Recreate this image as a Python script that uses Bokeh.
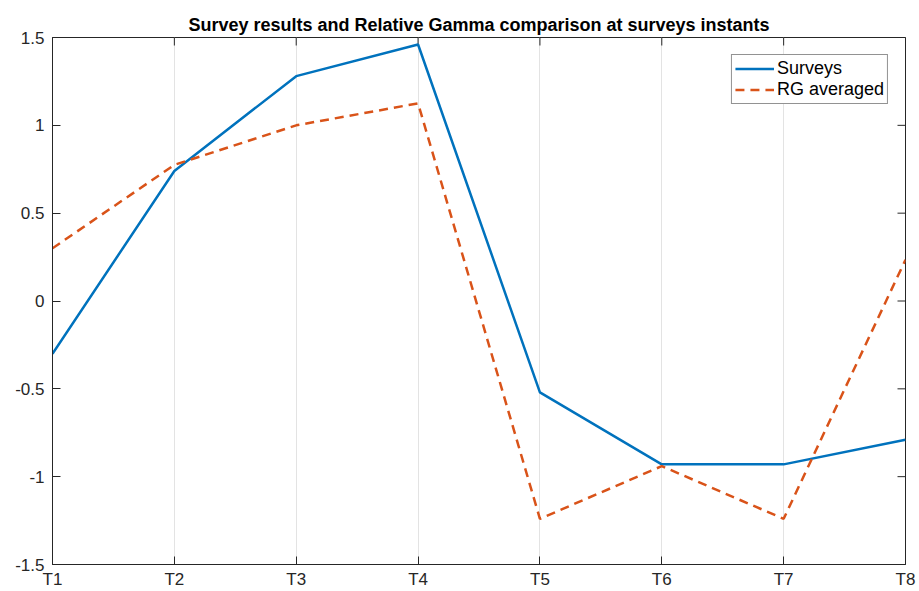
import math

from bokeh.plotting import figure
from bokeh.models import Range1d, FixedTicker, CustomJSTickFormatter
from bokeh.embed import file_html
from bokeh.resources import INLINE

# Survey instants and the two compared series
instants = ["T1", "T2", "T3", "T4", "T5", "T6", "T7", "T8"]
surveys = [-0.30, 0.74, 1.28, 1.46, -0.52, -0.93, -0.93, -0.79]
rg_averaged = [0.30, 0.775, 1.0, 1.125, -1.24, -0.94, -1.24, 0.235]
y_ticks = [-1.5, -1.0, -0.5, 0.0, 0.5, 1.0, 1.5]

x_pos = list(range(1, len(instants) + 1))
x_labels = {i: lab for i, lab in zip(x_pos, instants)}
x_lo, x_hi = x_pos[0], x_pos[-1]
y_lo, y_hi = y_ticks[0], y_ticks[-1]

FONT = "Liberation Sans"
AX_COLOR = "#262626"
TICK_LEN = 8

p = figure(
    width=919, height=591,
    x_range=Range1d(x_lo, x_hi), y_range=Range1d(y_lo, y_hi),
    output_backend="svg", toolbar_location=None,
    min_border_left=52, min_border_right=14, min_border_top=37, min_border_bottom=26,
    title="Survey results and Relative Gamma comparison at surveys instants",
)
# frame box drawn by the outline
p.outline_line_color = AX_COLOR
p.outline_line_width = 1
p.background_fill_color = "white"
p.border_fill_color = "white"

p.title.align = "center"
p.title.text_font = FONT
p.title.text_font_size = "18px"
p.title.text_font_style = "bold"
p.title.text_color = "black"
p.title.standoff = 6


def style_axis(ax, ticks):
    ax.ticker = FixedTicker(ticks=ticks)
    ax.axis_line_color = AX_COLOR
    ax.axis_line_width = 1
    ax.major_tick_line_color = AX_COLOR
    ax.major_tick_in = TICK_LEN
    ax.major_tick_out = 0
    ax.minor_tick_line_color = None
    ax.major_label_text_font = FONT
    ax.major_label_text_color = AX_COLOR
    ax.major_label_text_font_size = "17px"
    ax.major_label_standoff = 8


xa = p.xaxis[0]
style_axis(xa, x_pos)
xa.major_label_overrides = x_labels
xa.major_label_standoff = 5
xa.major_label_text_line_height = 0.6

ya = p.yaxis[0]
style_axis(ya, y_ticks)
ya.formatter = CustomJSTickFormatter(code="return tick.toString();")

# inward ticks along the top and right edges of the box (clipped to the frame)
p.scatter(x_pos, [y_hi] * len(x_pos), marker="dash", angle=math.pi / 2,
          size=2 * TICK_LEN, line_color=AX_COLOR, line_width=1)
p.scatter([x_hi] * len(y_ticks), y_ticks, marker="dash",
          size=2 * TICK_LEN, line_color=AX_COLOR, line_width=1)

p.xgrid.ticker = FixedTicker(ticks=x_pos)
p.xgrid.grid_line_color = "#e3e3e3"
p.xgrid.grid_line_width = 1
p.ygrid.visible = False

p.line(x_pos, surveys, line_color="#0072BD", line_width=2.5, legend_label="Surveys")
p.line(x_pos, rg_averaged, line_color="#D95319", line_width=2.5, line_dash="9 6",
       legend_label="RG averaged")

leg = p.legend[0]
leg.location = "top_right"
leg.margin = 17
leg.padding = 3
leg.spacing = 0
leg.label_standoff = 3
leg.glyph_width = 39
leg.glyph_height = 21
leg.label_height = 21
leg.label_text_font = FONT
leg.label_text_font_size = "18px"
leg.label_text_color = "black"
leg.border_line_color = AX_COLOR
leg.border_line_width = 1
leg.background_fill_color = "white"
leg.background_fill_alpha = 1

open("out.html", "w").write(file_html(p, INLINE))
